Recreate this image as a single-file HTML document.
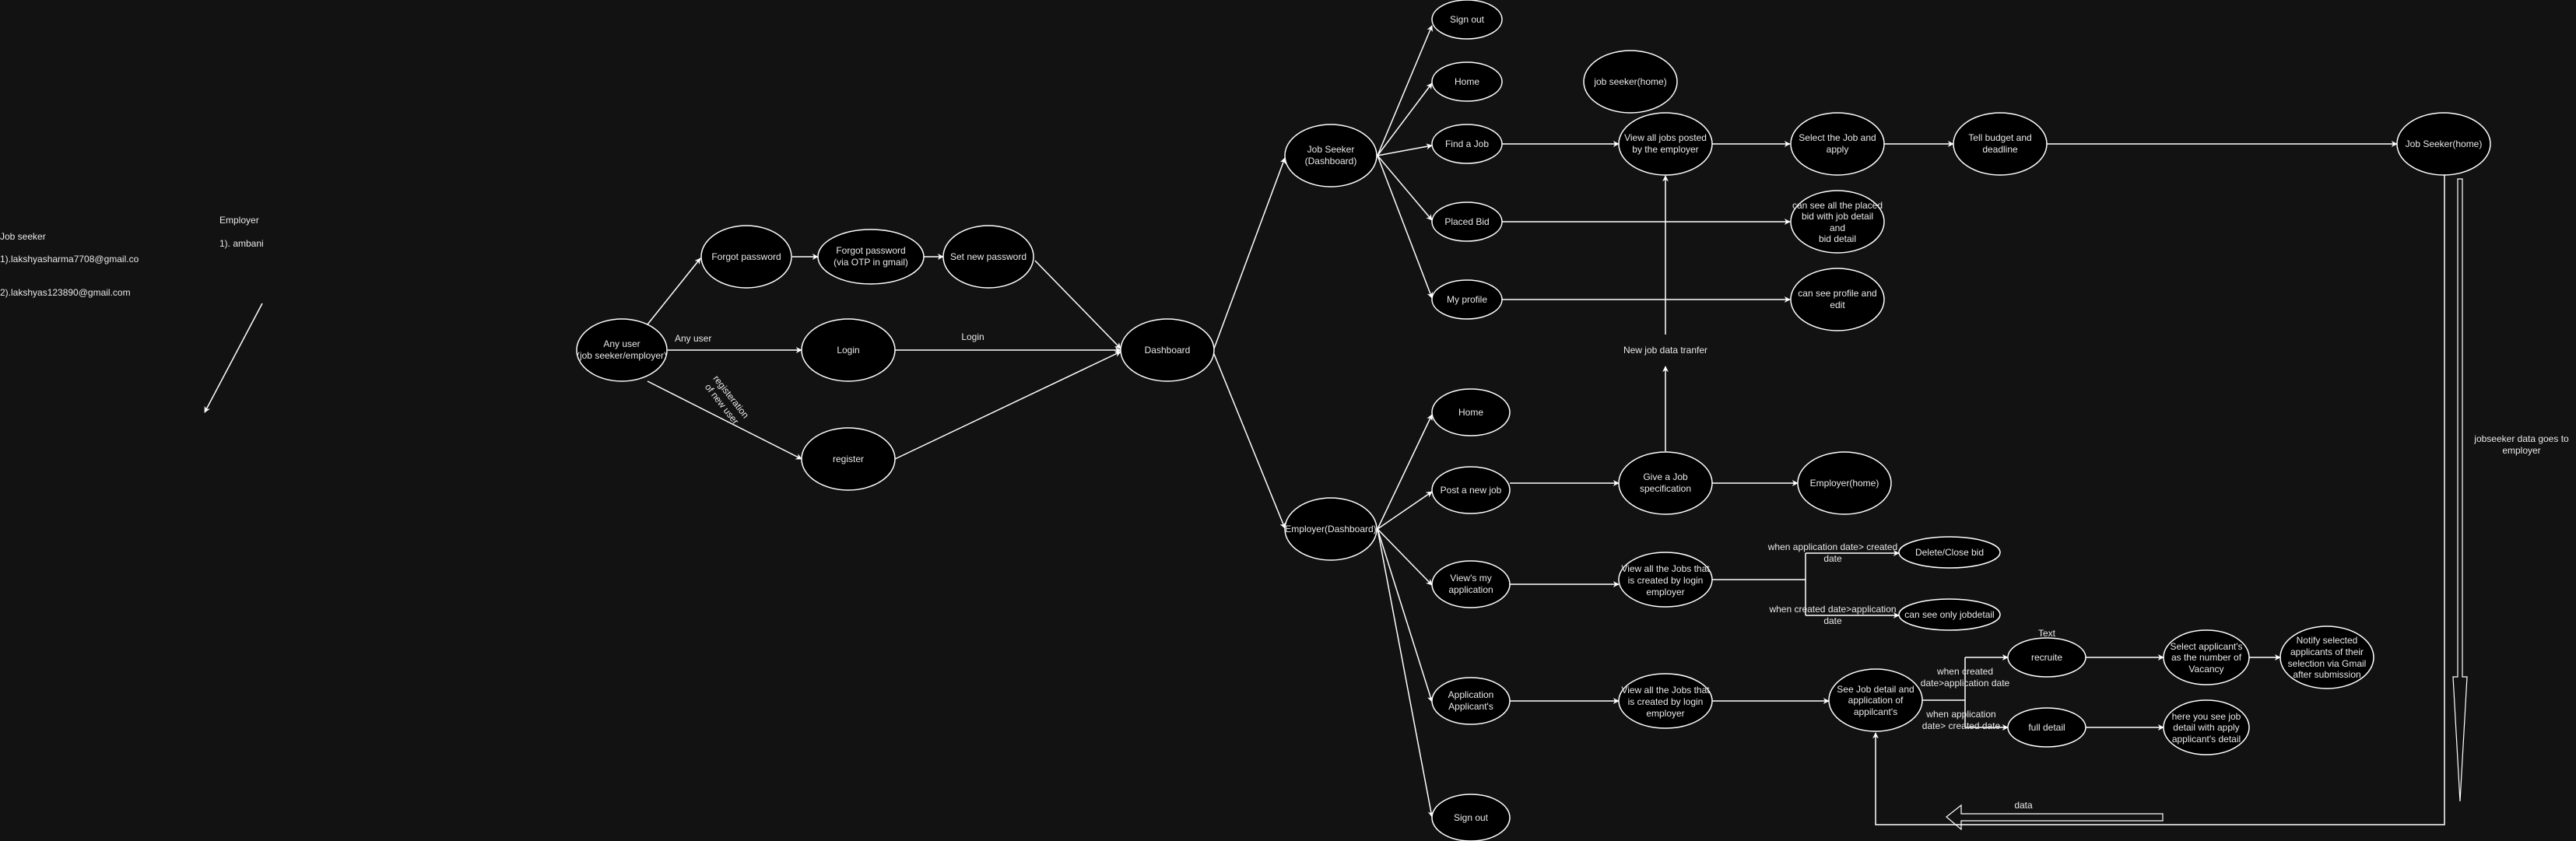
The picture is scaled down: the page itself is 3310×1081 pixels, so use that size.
<!DOCTYPE html>
<html><head><meta charset="utf-8"><style>
html,body{margin:0;padding:0;background:#121212;}
svg{display:block;}
text{font-family:"Liberation Sans",sans-serif;font-size:12px;fill:#e8e8e8;}
.n{fill:#000;stroke:#fff;stroke-width:1.5;}
.e{stroke:#fff;stroke-width:1.5;fill:none;}
</style></head><body>
<svg width="3310" height="1081" viewBox="0 0 3310 1081" xmlns="http://www.w3.org/2000/svg">
<defs><marker id="a" viewBox="0 0 10 10" refX="9" refY="5" markerWidth="8" markerHeight="8" orient="auto" markerUnits="userSpaceOnUse"><path d="M0,0 L10,5 L0,10 L3,5 z" fill="#fff"/></marker></defs>
<rect width="3310" height="1081" fill="#121212"/>

<!-- left notes -->
<text x="0" y="308">Job seeker</text>
<text x="0" y="337">1).lakshyasharma7708@gmail.co</text>
<text x="0" y="380">2).lakshyas123890@gmail.com</text>
<text x="282" y="287">Employer</text>
<text x="282" y="317">1). ambani</text>
<line class="e" x1="337" y1="390" x2="263" y2="530" marker-end="url(#a)"/>

<!-- edges left -->
<g class="e" marker-end="url(#a)">
<line x1="832" y1="417" x2="900" y2="332" marker-end="url(#a)"/>
<line x1="858" y1="450" x2="1030" y2="450" marker-end="url(#a)"/>
<line x1="832" y1="490" x2="1030" y2="590" marker-end="url(#a)"/>
<line x1="1018" y1="330" x2="1051" y2="330" marker-end="url(#a)"/>
<line x1="1187" y1="330" x2="1212" y2="330" marker-end="url(#a)"/>
<line x1="1330" y1="335" x2="1440" y2="448" marker-end="url(#a)"/>
<line x1="1150" y1="450" x2="1440" y2="450" marker-end="url(#a)"/>
<line x1="1150" y1="590" x2="1440" y2="452" marker-end="url(#a)"/>
<line x1="1560" y1="448" x2="1651" y2="203" marker-end="url(#a)"/>
<line x1="1560" y1="455" x2="1651" y2="679" marker-end="url(#a)"/>
<!-- JS dashboard -->
<line x1="1770" y1="200" x2="1840" y2="33" marker-end="url(#a)"/>
<line x1="1770" y1="200" x2="1840" y2="107" marker-end="url(#a)"/>
<line x1="1770" y1="200" x2="1840" y2="187" marker-end="url(#a)"/>
<line x1="1770" y1="200" x2="1840" y2="283" marker-end="url(#a)"/>
<line x1="1770" y1="200" x2="1840" y2="383" marker-end="url(#a)"/>
<line x1="1930" y1="185" x2="2080" y2="185" marker-end="url(#a)"/>
<line x1="2200" y1="185" x2="2300" y2="185" marker-end="url(#a)"/>
<line x1="2420" y1="185" x2="2510" y2="185" marker-end="url(#a)"/>
<line x1="2630" y1="185" x2="3080" y2="185" marker-end="url(#a)"/>
<line x1="1930" y1="285" x2="2300" y2="285" marker-end="url(#a)"/>
<line x1="1930" y1="385" x2="2300" y2="385" marker-end="url(#a)"/>
<line x1="2140" y1="430" x2="2140" y2="226" marker-end="url(#a)"/>
<line x1="2140" y1="580" x2="2140" y2="471" marker-end="url(#a)"/>
<!-- Employer dashboard -->
<line x1="1770" y1="680" x2="1840" y2="533" marker-end="url(#a)"/>
<line x1="1770" y1="680" x2="1840" y2="632" marker-end="url(#a)"/>
<line x1="1770" y1="680" x2="1840" y2="752" marker-end="url(#a)"/>
<line x1="1770" y1="680" x2="1840" y2="902" marker-end="url(#a)"/>
<line x1="1770" y1="680" x2="1840" y2="1050" marker-end="url(#a)"/>
<line x1="1940" y1="621" x2="2080" y2="621" marker-end="url(#a)"/>
<line x1="2200" y1="621" x2="2310" y2="621" marker-end="url(#a)"/>
<line x1="1940" y1="751" x2="2080" y2="751" marker-end="url(#a)"/>
<line x1="1940" y1="901" x2="2080" y2="901" marker-end="url(#a)"/>
<line x1="2200" y1="901" x2="2350" y2="901" marker-end="url(#a)"/>
<path d="M2320,711 L2440,711" marker-end="url(#a)"/>
<path d="M2320,791 L2440,791" marker-end="url(#a)"/>
<path d="M2525,845 L2580,845" marker-end="url(#a)"/>
<path d="M2525,935 L2580,935" marker-end="url(#a)"/>
<line x1="2680" y1="845" x2="2780" y2="845" marker-end="url(#a)"/>
<line x1="2890" y1="845" x2="2930" y2="845" marker-end="url(#a)"/>
<line x1="2680" y1="935" x2="2780" y2="935" marker-end="url(#a)"/>
<path d="M3141,225 L3141,1060 L2410,1060 L2410,942" marker-end="url(#a)"/>
</g>
<path class="e" d="M2200,745 L2320,745 M2320,711 L2320,791 M2470,900 L2525,900 M2525,845 L2525,935"/>

<!-- hollow arrows -->
<path d="M3158,230 L3164,230 L3164,870 L3170,870 L3161,1030 L3152,870 L3158,870 Z" fill="none" stroke="#fff" stroke-width="1.2"/>
<path d="M2779,1046 L2520,1046 L2520,1035 L2501,1050 L2520,1066 L2520,1055 L2779,1055 Z" fill="none" stroke="#fff" stroke-width="1.2"/>
<text x="2600" y="1039" text-anchor="middle">data</text>

<!-- nodes -->
<g text-anchor="middle">
<ellipse class="n" cx="799" cy="450" rx="58" ry="40"/><text x="799" y="446">Any user</text><text x="799" y="461">(job seeker/employer)</text>
<ellipse class="n" cx="959" cy="330" rx="58" ry="40"/><text x="959" y="334">Forgot password</text>
<ellipse class="n" cx="1119" cy="330" rx="68" ry="35"/><text x="1119" y="326">Forgot password</text><text x="1119" y="341">(via OTP in gmail)</text>
<ellipse class="n" cx="1270" cy="330" rx="58" ry="40"/><text x="1270" y="334">Set new password</text>
<ellipse class="n" cx="1090" cy="450" rx="60" ry="40"/><text x="1090" y="454">Login</text>
<ellipse class="n" cx="1090" cy="590" rx="60" ry="40"/><text x="1090" y="594">register</text>
<ellipse class="n" cx="1500" cy="450" rx="60" ry="40"/><text x="1500" y="454">Dashboard</text>

<ellipse class="n" cx="1710" cy="200" rx="59" ry="40"/><text x="1710" y="196">Job Seeker</text><text x="1710" y="211">(Dashboard)</text>
<ellipse class="n" cx="1885" cy="25" rx="45" ry="25"/><text x="1885" y="29">Sign out</text>
<ellipse class="n" cx="1885" cy="105" rx="45" ry="25"/><text x="1885" y="109">Home</text>
<ellipse class="n" cx="1885" cy="185" rx="45" ry="25"/><text x="1885" y="189">Find a Job</text>
<ellipse class="n" cx="1885" cy="285" rx="45" ry="25"/><text x="1885" y="289">Placed Bid</text>
<ellipse class="n" cx="1885" cy="385" rx="45" ry="25"/><text x="1885" y="389">My profile</text>
<ellipse class="n" cx="2095" cy="105" rx="60" ry="40"/><text x="2095" y="109">job seeker(home)</text>
<ellipse class="n" cx="2140" cy="185" rx="60" ry="40"/><text x="2140" y="181">View all jobs posted</text><text x="2140" y="196">by the employer</text>
<ellipse class="n" cx="2361" cy="185" rx="60" ry="40"/><text x="2361" y="181">Select the Job and</text><text x="2361" y="196">apply</text>
<ellipse class="n" cx="2361" cy="285" rx="60" ry="40"/><text x="2361" y="268">can see all the placed</text><text x="2361" y="282">bid with job detail</text><text x="2361" y="297">and</text><text x="2361" y="311">bid detail</text>
<ellipse class="n" cx="2361" cy="385" rx="60" ry="40"/><text x="2361" y="381">can see profile and</text><text x="2361" y="396">edit</text>
<ellipse class="n" cx="2570" cy="185" rx="60" ry="40"/><text x="2570" y="181">Tell budget and</text><text x="2570" y="196">deadline</text>
<ellipse class="n" cx="3140" cy="185" rx="60" ry="40"/><text x="3140" y="189">Job Seeker(home)</text>

<ellipse class="n" cx="1710" cy="680" rx="59" ry="40"/><text x="1710" y="684">Employer(Dashboard)</text>
<ellipse class="n" cx="1890" cy="530" rx="50" ry="30"/><text x="1890" y="534">Home</text>
<ellipse class="n" cx="1890" cy="630" rx="50" ry="30"/><text x="1890" y="634">Post a new job</text>
<ellipse class="n" cx="1890" cy="751" rx="50" ry="30"/><text x="1890" y="747">View's my</text><text x="1890" y="762">application</text>
<ellipse class="n" cx="1890" cy="901" rx="50" ry="30"/><text x="1890" y="897">Application</text><text x="1890" y="912">Applicant's</text>
<ellipse class="n" cx="1890" cy="1051" rx="50" ry="30"/><text x="1890" y="1055">Sign out</text>
<ellipse class="n" cx="2140" cy="621" rx="60" ry="40"/><text x="2140" y="617">Give a Job</text><text x="2140" y="632">specification</text>
<ellipse class="n" cx="2370" cy="621" rx="60" ry="40"/><text x="2370" y="625">Employer(home)</text>
<ellipse class="n" cx="2140" cy="745" rx="60" ry="35"/><text x="2140" y="735">View all the Jobs that</text><text x="2140" y="750">is created by login</text><text x="2140" y="765">employer</text>
<ellipse class="n" cx="2140" cy="901" rx="60" ry="35"/><text x="2140" y="891">View all the Jobs that</text><text x="2140" y="906">is created by login</text><text x="2140" y="921">employer</text>
<ellipse class="n" cx="2505" cy="710" rx="65" ry="20"/><text x="2505" y="714">Delete/Close bid</text>
<ellipse class="n" cx="2505" cy="790" rx="65" ry="20"/><text x="2505" y="794">can see only jobdetail</text>
<ellipse class="n" cx="2410" cy="900" rx="60" ry="40"/><text x="2410" y="890">See Job detail and</text><text x="2410" y="904">application of</text><text x="2410" y="919">appilcant's</text>
<ellipse class="n" cx="2630" cy="845" rx="50" ry="25"/><text x="2630" y="849">recruite</text>
<ellipse class="n" cx="2630" cy="935" rx="50" ry="25"/><text x="2630" y="939">full detail</text>
<ellipse class="n" cx="2835" cy="845" rx="55" ry="35"/><text x="2835" y="835">Select applicant's</text><text x="2835" y="849">as the number of</text><text x="2835" y="864">Vacancy</text>
<ellipse class="n" cx="2990" cy="845" rx="60" ry="40"/><text x="2990" y="827">Notify selected</text><text x="2990" y="842">applicants of their</text><text x="2990" y="857">selection via Gmail</text><text x="2990" y="871">after submission</text>
<ellipse class="n" cx="2835" cy="935" rx="55" ry="35"/><text x="2835" y="925">here you see job</text><text x="2835" y="939">detail with apply</text><text x="2835" y="954">applicant's detail</text>

<!-- labels -->
<text x="2140" y="454">New job data tranfer</text>
<text x="2355" y="707">when application date&gt; created</text><text x="2355" y="722">date</text>
<text x="2355" y="787">when created date&gt;application</text><text x="2355" y="802">date</text>
<text x="2525" y="867">when created</text><text x="2525" y="882">date&gt;application date</text>
<text x="2520" y="922">when application</text><text x="2520" y="937">date&gt; created date</text>
<text x="2630" y="818">Text</text>
<text x="1250" y="437">Login</text>
<text x="3240" y="568">jobseeker data goes to</text><text x="3240" y="583">employer</text>
</g>
<text x="867" y="439">Any user</text>
<g transform="translate(933,515) rotate(52)" text-anchor="middle"><text x="0" y="-4">registeration</text><text x="0" y="11">of new user</text></g>
</svg>
</body></html>
